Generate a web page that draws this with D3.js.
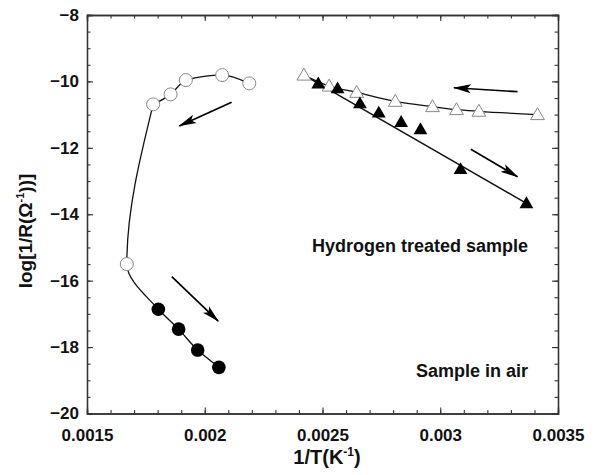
<!DOCTYPE html>
<html><head><meta charset="utf-8">
<script src="https://cdn.jsdelivr.net/npm/d3@7"></script>
<style>
body{margin:0;background:#fff;}
svg text{font-family:"Liberation Sans",Arial,Helvetica,sans-serif;font-weight:bold;fill:#111;}
</style></head>
<body><svg id="c" width="601" height="475"></svg>
<script>
// Sample in air: open circles (heating) and filled circles (cooling)
const airOpenX = [0.001669, 0.001781, 0.001855, 0.001920, 0.002074, 0.002189];
const airOpenY = [-15.50, -10.69, -10.39, -9.96, -9.81, -10.06];
const airFilledX = [0.002060, 0.001970, 0.001889, 0.001803];
const airFilledY = [-18.61, -18.09, -17.46, -16.86];
// Hydrogen treated sample: open triangles and filled triangles
const hOpenX = [0.002421, 0.002528, 0.002645, 0.002809, 0.002967, 0.003069, 0.003164, 0.003413];
const hOpenY = [-9.81, -10.14, -10.33, -10.60, -10.76, -10.85, -10.90, -11.00];
const hFilledX = [0.002482, 0.002564, 0.002659, 0.002739, 0.002834, 0.002916, 0.003086, 0.003366];
const hFilledY = [-10.06, -10.21, -10.66, -10.94, -11.22, -11.44, -12.64, -13.67];
const hFitX = [0.002450, 0.003366];
const hFitY = [-9.93, -13.67];
// arrows [x1,y1,x2,y2]
const arrows = [
  [0.002114, -10.63, 0.001892, -11.34],
  [0.001860, -15.88, 0.002057, -17.22],
  [0.003328, -10.31, 0.003058, -10.19],
  [0.003130, -12.04, 0.003328, -12.87]
];
const xTicks = [0.0015, 0.002, 0.0025, 0.003, 0.0035];
const xTickLabels = ["0.0015", "0.002", "0.0025", "0.003", "0.0035"];
const yTicks = [-20, -18, -16, -14, -12, -10, -8];
const labels = ["Hydrogen treated sample", "Sample in air"];

const svg = d3.select("#c");
const L = 87, R = 558, T = 15, B = 413.5;
const x = d3.scaleLinear().domain([0.0015, 0.0035]).range([L, R]);
const y = d3.scaleLinear().domain([-20, -8]).range([B, T]);

const xMinor = d3.range(0.0015, 0.00351, 0.0001).map(v => +v.toFixed(5));
const yMinor = d3.range(-20, -7.99, 0.5);
const axisColor = "#333";

function styleAxis(g) {
  g.select(".domain").attr("stroke", axisColor).attr("stroke-width", 1.3);
  g.selectAll(".tick line").attr("stroke", axisColor).attr("stroke-width", 1.1);
}
// bottom
svg.append("g").attr("transform", `translate(0,${B})`)
  .call(d3.axisBottom(x).tickValues(xMinor).tickSize(-3.5).tickFormat(""))
  .call(styleAxis);
const xa = svg.append("g").attr("transform", `translate(0,${B})`)
  .call(d3.axisBottom(x).tickValues(xTicks).tickSize(-6).tickPadding(15)
    .tickFormat((d, i) => xTickLabels[i]))
  .call(styleAxis);
xa.selectAll("text").style("font-size", "17px").attr("fill", "#111");
// top
svg.append("g").attr("transform", `translate(0,${T})`)
  .call(d3.axisTop(x).tickValues(xMinor).tickSize(-3.5).tickFormat(""))
  .call(styleAxis);
svg.append("g").attr("transform", `translate(0,${T})`)
  .call(d3.axisTop(x).tickValues(xTicks).tickSize(-6).tickFormat(""))
  .call(styleAxis);
// left
svg.append("g").attr("transform", `translate(${L},0)`)
  .call(d3.axisLeft(y).tickValues(yMinor).tickSize(-3.5).tickFormat(""))
  .call(styleAxis);
const ya = svg.append("g").attr("transform", `translate(${L},0)`)
  .call(d3.axisLeft(y).tickValues(yTicks).tickSize(-6).tickPadding(8).tickFormat(d3.format("d")))
  .call(styleAxis);
ya.selectAll("text").style("font-size", "17px").attr("fill", "#111");
// right
svg.append("g").attr("transform", `translate(${R},0)`)
  .call(d3.axisRight(y).tickValues(yMinor).tickSize(-3.5).tickFormat(""))
  .call(styleAxis);
svg.append("g").attr("transform", `translate(${R},0)`)
  .call(d3.axisRight(y).tickValues(yTicks).tickSize(-6).tickFormat(""))
  .call(styleAxis);
svg.selectAll(".domain").attr("fill", "none");

// axis titles
const xt = svg.append("text").attr("x", 327).attr("y", 464).attr("text-anchor", "middle")
  .style("font-size", "20px");
xt.append("tspan").text("1/T(K");
xt.append("tspan").text("-1").attr("dy", -8).style("font-size", "12px");
xt.append("tspan").text(")").attr("dy", 8);

const yt = svg.append("text").attr("transform", "translate(32,231) rotate(-90)")
  .attr("text-anchor", "middle").style("font-size", "19px");
yt.append("tspan").text("log[1/R(Ω");
yt.append("tspan").text("-1").attr("dy", -8).style("font-size", "11px");
yt.append("tspan").text("))]").attr("dy", 8);

// air curve: filled (cooling) -> first open points, monotone in y; then the top open points, monotone in x
const airAll = airFilledX.map((v, i) => [v, airFilledY[i]])
  .concat(airOpenX.map((v, i) => [v, airOpenY[i]]));
const airLower = airAll.slice(0, 6);   // up to the open circle at -10.69
const airUpper = airAll.slice(5);      // open circles along the top
svg.append("path").datum(airLower)
  .attr("d", d3.line().x(d => x(d[0])).y(d => y(d[1])).curve(d3.curveMonotoneY))
  .attr("fill", "none").attr("stroke", "#111").attr("stroke-width", 1.3);
svg.append("path").datum(airUpper)
  .attr("d", d3.line().x(d => x(d[0])).y(d => y(d[1])).curve(d3.curveMonotoneX))
  .attr("fill", "none").attr("stroke", "#111").attr("stroke-width", 1.3);

// hydrogen lines
const hOpenPts = hOpenX.map((v, i) => [v, hOpenY[i]]);
svg.append("path").datum(hOpenPts)
  .attr("d", d3.line().x(d => x(d[0])).y(d => y(d[1])).curve(d3.curveMonotoneX))
  .attr("fill", "none").attr("stroke", "#111").attr("stroke-width", 1.3);
const fitPts = hFitX.map((v, i) => [v, hFitY[i]]);
svg.append("path").datum(fitPts)
  .attr("d", d3.line().x(d => x(d[0])).y(d => y(d[1])))
  .attr("fill", "none").attr("stroke", "#111").attr("stroke-width", 1.4);

// markers
svg.append("g").selectAll("circle").data(airOpenX).join("circle")
  .attr("cx", d => x(d)).attr("cy", (d, i) => y(airOpenY[i])).attr("r", 6.5)
  .attr("fill", "#fff").attr("stroke", "#888").attr("stroke-width", 1);
svg.append("g").selectAll("circle").data(airFilledX).join("circle")
  .attr("cx", d => x(d)).attr("cy", (d, i) => y(airFilledY[i])).attr("r", 6.8)
  .attr("fill", "#000");
const tri = d3.symbol().type(d3.symbolTriangle).size(82);
svg.append("g").selectAll("path").data(hOpenX).join("path")
  .attr("d", tri).attr("transform", (d, i) => `translate(${x(d)},${y(hOpenY[i]) + 1})`)
  .attr("fill", "#fff").attr("stroke", "#888").attr("stroke-width", 1);
svg.append("g").selectAll("path").data(hFilledX).join("path")
  .attr("d", tri).attr("transform", (d, i) => `translate(${x(d)},${y(hFilledY[i]) + 1})`)
  .attr("fill", "#000");

// arrows
svg.append("defs").append("marker").attr("id", "ah")
  .attr("viewBox", "0 0 18 10").attr("refX", 17).attr("refY", 5)
  .attr("markerWidth", 18).attr("markerHeight", 10).attr("markerUnits", "userSpaceOnUse")
  .attr("orient", "auto")
  .append("path").attr("d", "M0,0.5 L18,5 L0,9.5 L4,5 Z").attr("fill", "#000");
svg.append("g").selectAll("line").data(arrows).join("line")
  .attr("x1", d => x(d[0])).attr("y1", d => y(d[1]))
  .attr("x2", d => x(d[2])).attr("y2", d => y(d[3]))
  .attr("stroke", "#000").attr("stroke-width", 1.7).attr("marker-end", "url(#ah)");

// annotations
svg.append("text").attr("x", 528).attr("y", 252).attr("text-anchor", "end")
  .style("font-size", "18px").text(labels[0]);
svg.append("text").attr("x", 528).attr("y", 377).attr("text-anchor", "end")
  .style("font-size", "18px").text(labels[1]);
</script></body></html>
